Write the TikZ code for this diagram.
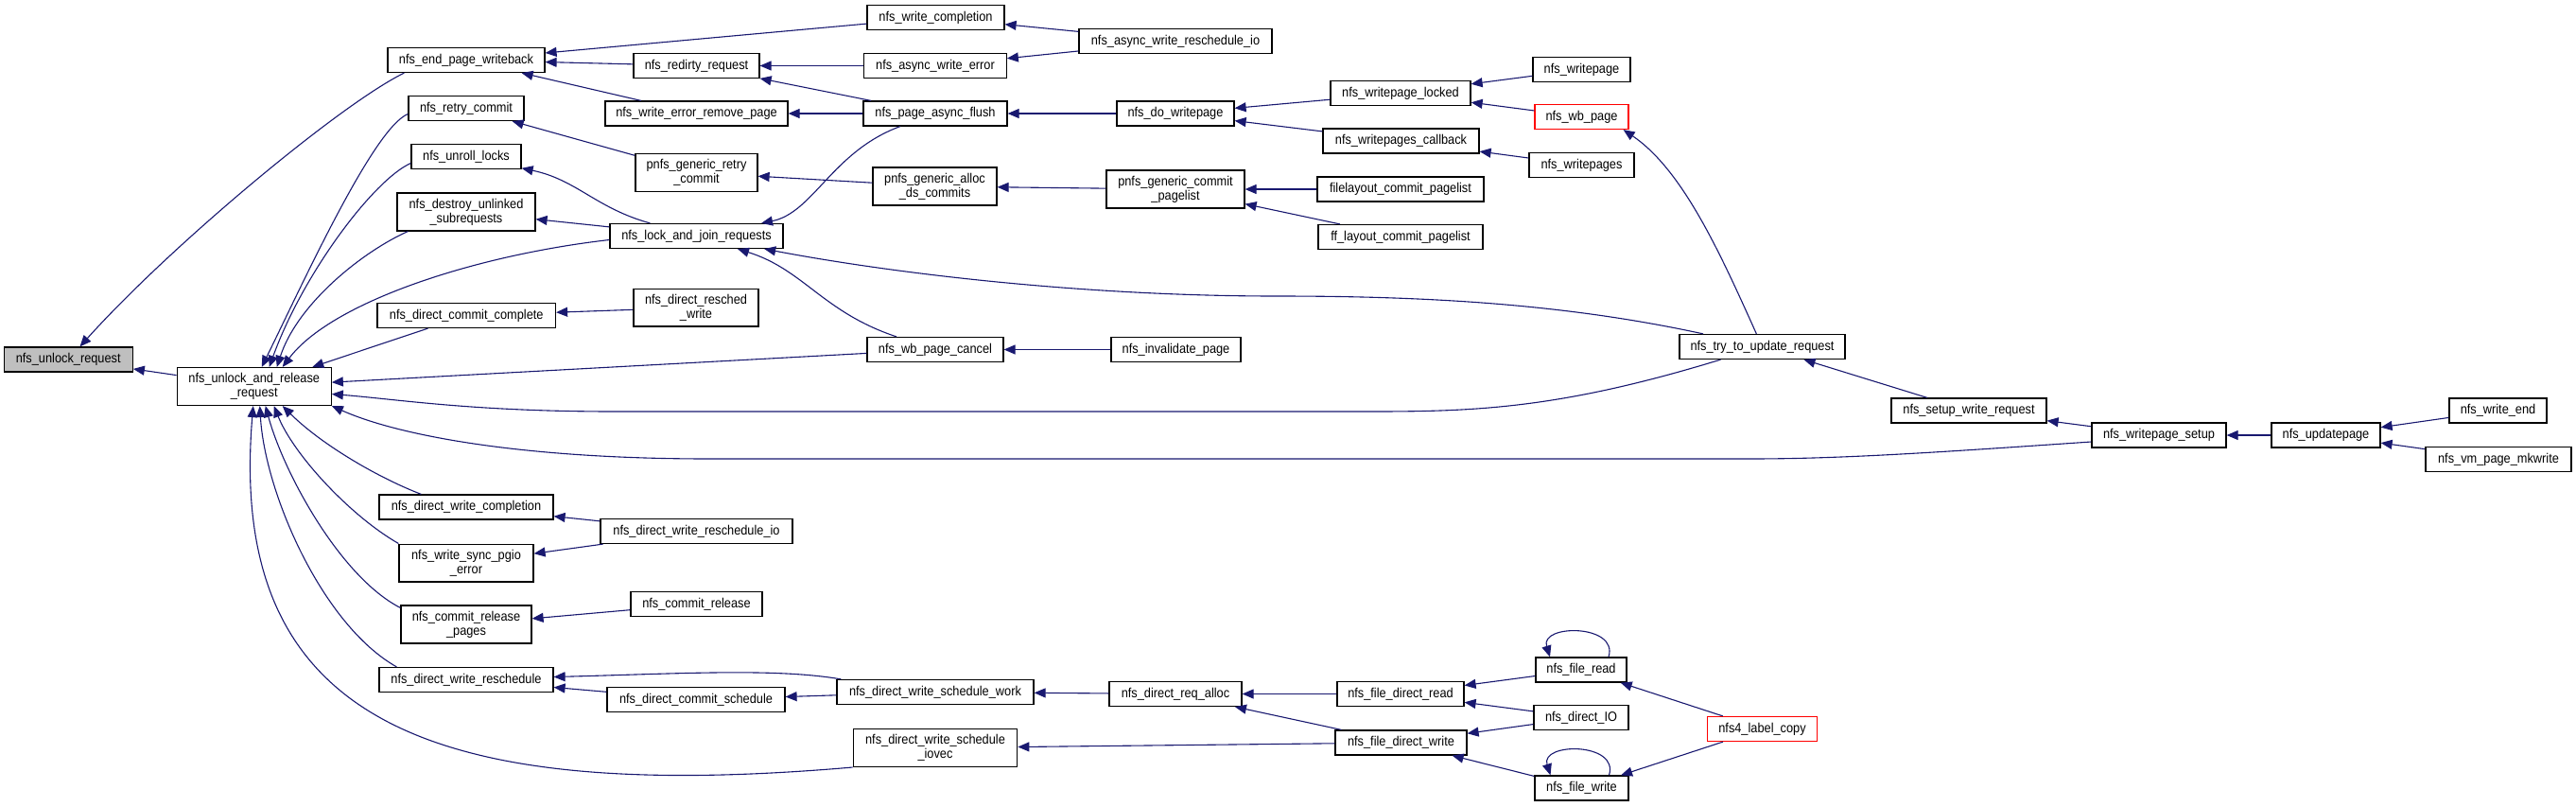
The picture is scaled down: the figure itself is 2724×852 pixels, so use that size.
\documentclass[tikz,border=0pt]{standalone}
\usepackage{fontspec}
\setmainfont{Liberation Sans}[FakeStretch=0.9]
\usetikzlibrary{arrows.meta}
\definecolor{edgeblue}{HTML}{191970}

\begin{document}
\begin{tikzpicture}[
  x=1pt, y=-1pt,
  font=\fontsize{14.2}{14.7}\selectfont,
  box/.style={draw=black, line width=1.2pt, fill=white, align=center, inner xsep=2pt, inner ysep=6pt, minimum height=26pt},
  root/.style={box, fill=black!25},
  redbox/.style={box, draw=red},
  arrow/.style={-{Triangle[length=12pt, width=10pt]}, color=edgeblue, line width=1.1pt}
]
\useasboundingbox (0,0) rectangle (2724,852);
\node[root, minimum width=136] (unlockreq) at (72.25,380) {nfs\_unlock\_request};
\node[box, minimum width=163] (unlockrel) at (268.75,408.5) {nfs\_unlock\_and\_release\\\_request};
\node[box, minimum width=166] (endpage) at (493,63.5) {nfs\_end\_page\_writeback};
\node[box, minimum width=122] (retrycommit) at (493,114.5) {nfs\_retry\_commit};
\node[box, minimum width=116] (unroll) at (493,165.5) {nfs\_unroll\_locks};
\node[box, minimum width=146] (destroy) at (493,224) {nfs\_destroy\_unlinked\\\_subrequests};
\node[box, minimum width=188.5] (dcommitcomplete) at (493.25,333.5) {nfs\_direct\_commit\_complete};
\node[box, minimum width=184] (dwritecompletion) at (493,536) {nfs\_direct\_write\_completion};
\node[box, minimum width=142] (syncpgio) at (493,595) {nfs\_write\_sync\_pgio\\\_error};
\node[box, minimum width=138] (commitrelpages) at (493,660) {nfs\_commit\_release\\\_pages};
\node[box, minimum width=184] (dwritereschedule) at (493,718.5) {nfs\_direct\_write\_reschedule};
\node[box, minimum width=133] (redirty) at (736.5,69.5) {nfs\_redirty\_request};
\node[box, minimum width=193] (errremove) at (736.5,120) {nfs\_write\_error\_remove\_page};
\node[box, minimum width=129] (pnfsretry) at (736.5,182.5) {pnfs\_generic\_retry\\\_commit};
\node[box, minimum width=183] (lockjoin) at (736.5,249.5) {nfs\_lock\_and\_join\_requests};
\node[box, minimum width=132] (reschedwrite) at (736,325) {nfs\_direct\_resched\\\_write};
\node[box, minimum width=203] (reschedio) at (736.5,561.5) {nfs\_direct\_write\_reschedule\_io};
\node[box, minimum width=139] (commitrelease) at (736.5,638.5) {nfs\_commit\_release};
\node[box, minimum width=188] (dcommitsched) at (736,739.5) {nfs\_direct\_commit\_schedule};
\node[box, minimum width=145] (writecompletion) at (989.5,18.5) {nfs\_write\_completion};
\node[box, minimum width=150.5] (asyncerror) at (989,69.5) {nfs\_async\_write\_error};
\node[box, minimum width=152] (pageflush) at (989,120) {nfs\_page\_async\_flush};
\node[box, minimum width=131] (pnfsalloc) at (988.5,197) {pnfs\_generic\_alloc\\\_ds\_commits};
\node[box, minimum width=144] (wbcancel) at (989,369.5) {nfs\_wb\_page\_cancel};
\node[box, minimum width=208] (schedwork) at (989,731.5) {nfs\_direct\_write\_schedule\_work};
\node[box, minimum width=173.5] (iovec) at (989,790.5) {nfs\_direct\_write\_schedule\\\_iovec};
\node[box, minimum width=204] (asyncresched) at (1243,43.5) {nfs\_async\_write\_reschedule\_io};
\node[box, minimum width=124] (dowritepage) at (1243,120) {nfs\_do\_writepage};
\node[box, minimum width=146] (commitpagelist) at (1243,200) {pnfs\_generic\_commit\\\_pagelist};
\node[box, minimum width=137] (invalidate) at (1243.5,369.5) {nfs\_invalidate\_page};
\node[box, minimum width=140] (reqalloc) at (1243,733.5) {nfs\_direct\_req\_alloc};
\node[box, minimum width=148] (wplocked) at (1481,98.5) {nfs\_writepage\_locked};
\node[box, minimum width=165] (wpcallback) at (1481.5,149) {nfs\_writepages\_callback};
\node[box, minimum width=176] (filelayout) at (1481,200) {filelayout\_commit\_pagelist};
\node[box, minimum width=174] (fflayout) at (1481,250.5) {ff\_layout\_commit\_pagelist};
\node[box, minimum width=134] (fdread) at (1481,733.5) {nfs\_file\_direct\_read};
\node[box, minimum width=139] (fdwrite) at (1481.5,785) {nfs\_file\_direct\_write};
\node[box, minimum width=103] (writepage) at (1672.5,73.5) {nfs\_writepage};
\node[redbox, minimum width=99] (wbpage) at (1672.5,123.5) {nfs\_wb\_page};
\node[box, minimum width=111] (writepages) at (1672.5,174.5) {nfs\_writepages};
\node[box, minimum width=96] (fileread) at (1672,708) {nfs\_file\_read};
\node[box, minimum width=100] (directio) at (1672,758.5) {nfs\_direct\_IO};
\node[box, minimum width=99] (filewrite) at (1672.5,833) {nfs\_file\_write};
\node[box, minimum width=175] (tryupdate) at (1863.5,366.5) {nfs\_try\_to\_update\_request};
\node[redbox, minimum width=116] (labelcopy) at (1863.5,770.5) {nfs4\_label\_copy};
\node[box, minimum width=164] (setupwrite) at (2082,434) {nfs\_setup\_write\_request};
\node[box, minimum width=142] (wpsetup) at (2283,460) {nfs\_writepage\_setup};
\node[box, minimum width=115] (updatepage) at (2459.5,460) {nfs\_updatepage};
\node[box, minimum width=103] (writeend) at (2641.5,434) {nfs\_write\_end};
\node[box, minimum width=154] (mkwrite) at (2642,485.5) {nfs\_vm\_page\_mkwrite};
\draw[arrow] (unlockrel) -- (unlockreq);
\draw[arrow] ([xshift=18pt]endpage.south west) .. controls (360,110) and (180,260) .. (unlockreq);
\draw[arrow] ([yshift=-6pt]retrycommit.west) .. controls (395,135) and (320,300) .. ([xshift=8pt]unlockrel.north);
\draw[arrow] ([yshift=-7pt]unroll.west) .. controls (395,190) and (320,290) .. ([xshift=16pt]unlockrel.north);
\draw[arrow] ([xshift=12pt]destroy.south west) .. controls (385,265) and (315,320) .. ([xshift=24pt]unlockrel.north);
\draw[arrow] ([yshift=-4pt]lockjoin.west) .. controls (500,270) and (350,320) .. ([xshift=30pt]unlockrel.north);
\draw[arrow] (dcommitcomplete) -- (unlockrel);
\draw[arrow] ([xshift=45pt]dwritecompletion.north west) .. controls (400,505) and (340,470) .. ([xshift=30pt]unlockrel.south);
\draw[arrow] (syncpgio.north west) .. controls (370,545) and (310,480) .. ([xshift=21pt]unlockrel.south);
\draw[arrow] ([yshift=-3pt]commitrelpages.north west) .. controls (360,610) and (300,500) .. ([xshift=12pt]unlockrel.south);
\draw[arrow] ([xshift=19pt]dwritereschedule.north west) .. controls (340,660) and (280,520) .. ([xshift=6pt]unlockrel.south);
\draw[arrow] (iovec.south west) .. controls (450,850) and (240,760) .. ([xshift=-1pt]unlockrel.south);
\draw[arrow] (wbcancel) -- (unlockrel);
\draw[arrow] ([xshift=-44pt]tryupdate.south) .. controls (1650,432) and (1560,435) .. (1450,435) -- (650,435) .. controls (500,435) and (420,422) .. ([yshift=-8pt]unlockrel.east);
\draw[arrow] ([yshift=-7pt]wpsetup.west) .. controls (2050,478) and (1950,485) .. (1850,485) -- (750,485) .. controls (550,485) and (420,460) .. (unlockrel.south east);
\draw[arrow] (writecompletion) -- (endpage);
\draw[arrow] (redirty) -- (endpage);
\draw[arrow] (errremove) -- (endpage);
\draw[arrow] (pnfsretry) -- (retrycommit);
\draw[arrow] (lockjoin) .. controls (630,220) and (610,190) .. (unroll);
\draw[arrow] (lockjoin) -- (destroy);
\draw[arrow] (reschedwrite) -- (dcommitcomplete);
\draw[arrow] (reschedio) -- (dwritecompletion);
\draw[arrow] (reschedio) -- (syncpgio);
\draw[arrow] (commitrelease) -- (commitrelpages);
\draw[arrow] ([xshift=5pt]schedwork.north west) .. controls (820,706) and (720,712) .. ([yshift=3pt]dwritereschedule.east);
\draw[arrow] (dcommitsched) -- (dwritereschedule);
\draw[arrow] (asyncerror) -- (redirty);
\draw[arrow] (pageflush) -- (redirty);
\draw[arrow] (pageflush) -- (errremove);
\draw[arrow] (pnfsalloc) -- (pnfsretry);
\draw[arrow] (pageflush) .. controls (880,160) and (860,225) .. (lockjoin);
\draw[arrow] (wbcancel) .. controls (870,330) and (850,285) .. (lockjoin);
\draw[arrow] (tryupdate) .. controls (1650,320) and (1500,313) .. (1350,313) .. controls (1150,313) and (950,290) .. (lockjoin);
\draw[arrow] (schedwork) -- (dcommitsched);
\draw[arrow] (asyncresched) -- (writecompletion);
\draw[arrow] (asyncresched) -- (asyncerror);
\draw[arrow] (dowritepage) -- (pageflush);
\draw[arrow] (commitpagelist) -- (pnfsalloc);
\draw[arrow] (invalidate) -- (wbcancel);
\draw[arrow] (reqalloc) -- (schedwork);
\draw[arrow] (fdwrite) -- (iovec);
\draw[arrow] (wplocked) -- (dowritepage);
\draw[arrow] (wpcallback) -- (dowritepage);
\draw[arrow] (filelayout) -- (commitpagelist);
\draw[arrow] (fflayout) -- (commitpagelist);
\draw[arrow] (fdread) -- (reqalloc);
\draw[arrow] (fdwrite) -- (reqalloc);
\draw[arrow] (writepage) -- (wplocked);
\draw[arrow] (wbpage) -- (wplocked);
\draw[arrow] (writepages) -- (wpcallback);
\draw[arrow] (fileread) -- (fdread);
\draw[arrow] (directio) -- (fdread);
\draw[arrow] (directio) -- (fdwrite);
\draw[arrow] (filewrite) -- (fdwrite);
\draw[arrow] ([xshift=29pt]fileread.north) .. controls +(11,-35) and +(-11,-35) .. ([xshift=-33pt]fileread.north);
\draw[arrow] ([xshift=29pt]filewrite.north) .. controls +(11,-35) and +(-11,-35) .. ([xshift=-33pt]filewrite.north);
\draw[arrow] (tryupdate) .. controls (1820,270) and (1780,180) .. ([xshift=-6pt]wbpage.south east);
\draw[arrow] (labelcopy) -- (fileread);
\draw[arrow] (labelcopy) -- (filewrite);
\draw[arrow] (setupwrite) -- (tryupdate);
\draw[arrow] (wpsetup) -- (setupwrite);
\draw[arrow] (updatepage) -- (wpsetup);
\draw[arrow] (writeend) -- (updatepage);
\draw[arrow] (mkwrite) -- (updatepage);
\end{tikzpicture}
\end{document}
